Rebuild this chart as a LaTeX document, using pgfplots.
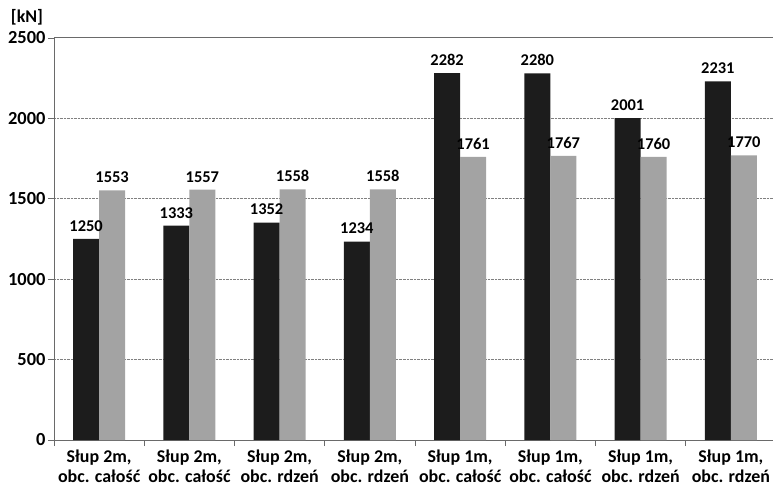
\documentclass[border=0pt]{standalone}
\usepackage{fontspec}
\setmainfont{Carlito}
\usepackage{pgfplots}
\pgfplotsset{compat=1.18}
\definecolor{barblack}{HTML}{1C1C1C}
\definecolor{bargray}{HTML}{A3A3A3}
\definecolor{axgray}{HTML}{6A6A6A}
\begin{document}
\begin{tikzpicture}
\begin{axis}[
  at={(0,0)}, anchor=south west,
  scale only axis, width=722bp, height=402bp,
  xmin=-0.5, xmax=7.5, ymin=0, ymax=2500,
  ybar=0pt, bar width=26bp,
  axis x line*=bottom, axis y line*=left,
  axis line style={-, draw=axgray, line width=1pt},
  tick align=outside,
  tick style={draw=axgray, line width=0.8pt},
  major tick length=6bp, minor tick length=6bp,
  ytick={0,500,...,2000},
  extra y ticks={2500},
  extra y tick style={grid=major, major grid style={solid, draw=axgray, line width=1pt}},
  ymajorgrids,
  major grid style={densely dotted, draw=gray, line width=0.6pt},
  xtick={0,...,7},
  major x tick style={draw=none},
  minor xtick={-0.5,0.5,...,7.5},
  xticklabels={{Słup 2m,\\obc. całość},{Słup 2m,\\obc. całość},{Słup 2m,\\obc. rdzeń},{Słup 2m,\\obc. rdzeń},{Słup 1m,\\obc. całość},{Słup 1m,\\obc. całość},{Słup 1m,\\obc. rdzeń},{Słup 1m,\\obc. rdzeń}},
  xticklabel style={align=center, font=\fontsize{18}{20}\selectfont\bfseries, yshift=-3bp, inner sep=1bp},
  yticklabel style={font=\fontsize{18.5}{21}\selectfont\bfseries, xshift=1bp},
  /pgf/number format/assume math mode=true,
  /pgf/number format/1000 sep={},
  nodes near coords,
  nodes near coords align={vertical},
  every node near coord/.append style={font=\fontsize{16.5}{19}\selectfont\bfseries, text=black, yshift=4bp},
  clip=false,
]
\addplot[fill=barblack, draw=none] coordinates {(0,1250) (1,1333) (2,1352) (3,1234) (4,2282) (5,2280) (6,2001) (7,2231)};
\addplot[fill=bargray, draw=none] coordinates {(0,1553) (1,1557) (2,1558) (3,1558) (4,1761) (5,1767) (6,1760) (7,1770)};
\node[font=\fontsize{18}{21}\selectfont\bfseries] at (rel axis cs:0,1) [xshift=-27bp, yshift=21bp] {[kN]};
\end{axis}
\pgfresetboundingbox
\useasboundingbox (-54bp,-51bp) rectangle (719bp,440bp);
\end{tikzpicture}
\end{document}
